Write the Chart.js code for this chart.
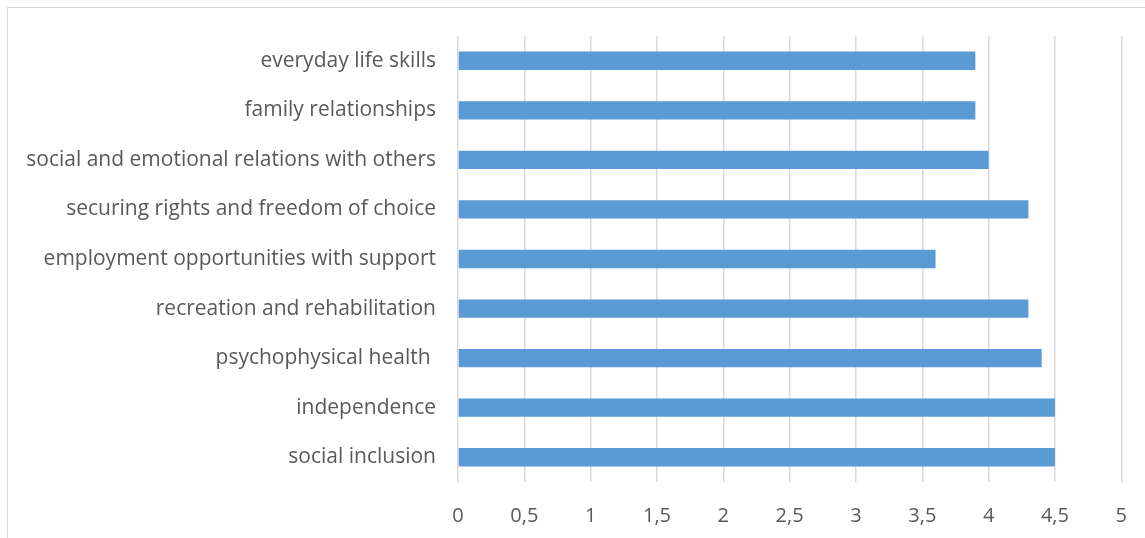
<!DOCTYPE html>
<html>
<head>
<meta charset="utf-8">
<script src="https://cdn.jsdelivr.net/npm/chart.js@4"></script>
<style>
  html, body { margin: 0; padding: 0; background: #fff; overflow: hidden; }
  #frame { position: absolute; left: 7px; top: 7px; width: 1200px; height: 600px; border: 1px solid #d9d9d9; }
  #wrap { position: absolute; left: 0; top: 0; width: 1149px; height: 538px; }
</style>
</head>
<body>
<div id="frame"></div>
<div id="wrap"><canvas id="chart"></canvas></div>
<script>
// categories top to bottom, as in the picture
const categories = [
  'everyday life skills',
  'family relationships',
  'social and emotional relations with others',
  'securing rights and freedom of choice',
  'employment opportunities with support',
  'recreation and rehabilitation',
  'psychophysical health ',
  'independence',
  'social inclusion'
];
const scores = [3.9, 3.9, 4.0, 4.3, 3.6, 4.3, 4.4, 4.5, 4.5];
const xMin = 0;
const xMax = 5;
const xStep = 0.5;

const textColor = '#595959';
const gridColor = '#d9d9d9';
const fontFamily = '"Open Sans", "Liberation Sans", sans-serif';

new Chart(document.getElementById('chart'), {
  type: 'bar',
  data: {
    labels: categories,
    datasets: [{
      data: scores,
      backgroundColor: '#5b9bd5',
      borderWidth: 0,
      barPercentage: 0.74,
      categoryPercentage: 0.5
    }]
  },
  options: {
    indexAxis: 'y',
    responsive: true,
    maintainAspectRatio: false,
    animation: false,
    layout: { padding: { top: 36, right: 14, left: 0, bottom: 0 } },
    plugins: { legend: { display: false }, tooltip: { enabled: false } },
    scales: {
      x: {
        min: xMin,
        max: xMax,
        ticks: {
          stepSize: xStep,
          color: textColor,
          font: { family: fontFamily, size: 20 },
          padding: 22,
          callback: v => String(v).replace('.', ',')
        },
        grid: { color: gridColor, lineWidth: 1.5, drawTicks: false },
        border: { display: false },
        afterFit: s => { s.height = 56; }
      },
      y: {
        ticks: {
          color: textColor,
          font: { family: fontFamily, size: 21 },
          padding: 22
        },
        grid: { display: false, drawTicks: false },
        border: { display: false },
        afterFit: s => { s.width = 458; }
      }
    }
  }
});
</script>
</body>
</html>
